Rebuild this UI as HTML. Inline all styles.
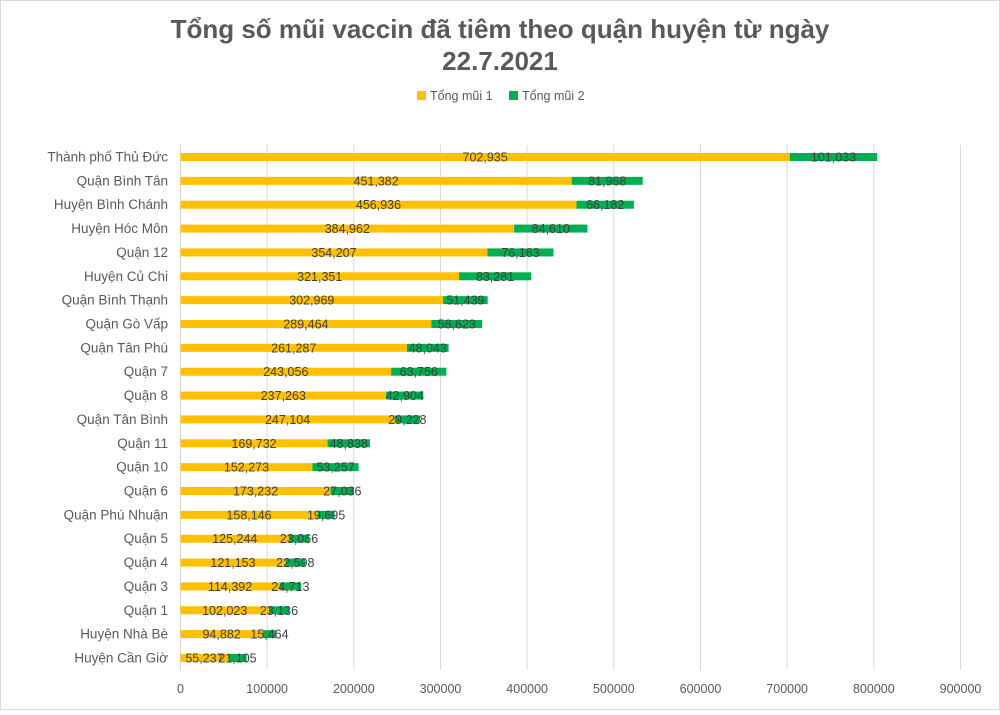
<!DOCTYPE html>
<html><head><meta charset="utf-8"><style>
body{margin:0;background:#fff;}
svg{font-family:"Liberation Sans",sans-serif;}
</style></head><body>
<svg id="s" width="1000" height="710" xmlns="http://www.w3.org/2000/svg">
<rect x="0.5" y="0.5" width="999" height="709" fill="#fff" stroke="#d9d9d9"/>
<text x="500" y="38" text-anchor="middle" font-size="26" font-weight="bold" fill="#595959">Tổng số mũi vaccin đã tiêm theo quận huyện từ ngày</text>
<text x="500" y="70" text-anchor="middle" font-size="26" font-weight="bold" fill="#595959">22.7.2021</text>
<rect x="417" y="91" width="9" height="9" fill="#FFC000"/>
<text x="430" y="100" font-size="12.5" fill="#595959">Tổng mũi 1</text>
<rect x="509" y="91" width="9" height="9" fill="#00B050"/>
<text x="522" y="100" font-size="12.5" fill="#595959">Tổng mũi 2</text>
<g id="g"></g>
</svg>
<script>
var d=[["Thành phố Thủ Đức",702935,101033],["Quận Bình Tân",451382,81968],["Huyện Bình Chánh",456936,66182],["Huyện Hóc Môn",384962,84610],["Quận 12",354207,76163],["Huyện Củ Chi",321351,83281],["Quận Bình Thạnh",302969,51439],["Quận Gò Vấp",289464,58623],["Quận Tân Phú",261287,48043],["Quận 7",243056,63756],["Quận 8",237263,42904],["Quận Tân Bình",247104,29228],["Quận 11",169732,48838],["Quận 10",152273,53257],["Quận 6",173232,27036],["Quận Phú Nhuận",158146,19695],["Quận 5",125244,23066],["Quận 4",121153,22598],["Quận 3",114392,24713],["Quận 1",102023,23136],["Huyện Nhà Bè",94882,15464],["Huyện Cần Giờ",55237,21105]];
var x0=180.5,k=780/900000,h="";
for(var i=0;i<=9;i++){var x=x0+i*100000*k;h+='<line x1="'+x+'" y1="145" x2="'+x+'" y2="670" stroke="#d9d9d9" stroke-width="1"/>';h+='<text x="'+x+'" y="693" text-anchor="middle" font-size="12.5" fill="#595959">'+(i*100000)+'</text>';}
function f(n){return n.toLocaleString("en-US");}
d.forEach(function(r,i){var y=157+i*23.857;var w1=r[1]*k,w2=r[2]*k;
h+='<rect x="'+x0+'" y="'+(y-4)+'" width="'+w1+'" height="8" fill="#FFC000"/>';
h+='<rect x="'+(x0+w1)+'" y="'+(y-4)+'" width="'+w2+'" height="8" fill="#00B050"/>';
h+='<text x="168" y="'+(y+4.5)+'" text-anchor="end" font-size="13.5" fill="#595959">'+r[0]+'</text>';
h+='<text x="'+(x0+w1/2)+'" y="'+(y+4.5)+'" text-anchor="middle" font-size="12.5" fill="#404040">'+f(r[1])+'</text>';
h+='<text x="'+(x0+w1+w2/2)+'" y="'+(y+4.5)+'" text-anchor="middle" font-size="12.5" fill="#404040">'+f(r[2])+'</text>';});
document.getElementById("g").innerHTML=h;
</script>
</body></html>
